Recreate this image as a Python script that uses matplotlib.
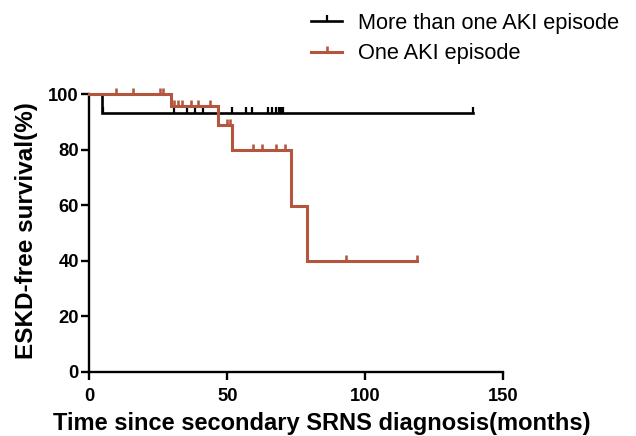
import matplotlib
matplotlib.use("Agg")
import matplotlib.pyplot as plt
from matplotlib.lines import Line2D
from matplotlib.path import Path

plt.rcParams['font.family'] = ['Liberation Sans', 'DejaVu Sans']

# --- data (months, survival %) ---
multi_times = [0, 4.5, 139.1]
multi_surv = [100, 93.3, 93.3]
multi_cens_t = [5.1, 30.8, 35.3, 38.3, 41.3, 51.6, 56.8, 58.8, 64.9, 66.1, 67.6, 68.6, 69.4, 70.1, 139.1]

one_times = [0, 29.6, 46.7, 51.8, 73.0, 79.0, 118.9]
one_surv = [100, 95.7, 89.0, 79.8, 59.8, 39.8, 39.8]
one_cens_t = [9.7, 15.7, 25.6, 26.8, 30.8, 32.2, 33.5, 36.8, 39.5, 43.7,
              49.8, 51.0, 59.4, 62.5, 67.6, 70.9, 92.9, 118.9]

labels = ["More than one AKI episode", "One AKI episode"]
xticks = [0, 50, 100, 150]
yticks = [0, 20, 40, 60, 80, 100]

BLACK = "#000000"
ORANGE = "#B4563E"


def level_at(times, surv, t):
    v = surv[0]
    for ti, si in zip(times, surv):
        if ti <= t:
            v = si
    return v


fig = plt.figure(figsize=(6.36, 4.36), dpi=100)
ax = fig.add_axes([0.1404, 0.1475, 0.6510, 0.6362])

tick_up = Path([(0, 0), (0, 1)])

for times, surv, cens, col, lw in [
    (multi_times, multi_surv, multi_cens_t, BLACK, 1.9),
    (one_times, one_surv, one_cens_t, ORANGE, 2.2),
]:
    z = 3 if col == ORANGE else 2
    ax.step(times, surv, where='post', color=col, lw=lw, clip_on=False,
            solid_joinstyle='miter', zorder=z)
    cy = [level_at(times, surv, t) for t in cens]
    ax.plot(cens, cy, linestyle='none', marker=tick_up, markersize=8.5,
            markeredgewidth=lw * 0.85, color=col, clip_on=False, zorder=z)

ax.set_xlim(0, 150)
ax.set_ylim(0, 100)
ax.set_xticks(xticks)
ax.set_yticks(yticks)
for s in ['top', 'right']:
    ax.spines[s].set_visible(False)
for s in ['left', 'bottom']:
    ax.spines[s].set_linewidth(1.7)
ax.tick_params(width=1.7, length=6, labelsize=13.2, pad=1.5)
ax.tick_params(axis='x', pad=5.5)
for lab in ax.get_xticklabels() + ax.get_yticklabels():
    lab.set_fontweight('bold')

ax.set_xlabel("Time since secondary SRNS diagnosis(months)", fontsize=17,
              fontweight='bold')
ax.xaxis.set_label_coords(0.5 + 25 / 414, -0.145)
ax.set_ylabel("ESKD-free survival(%)", fontsize=17.5, fontweight='bold')
ax.yaxis.set_label_coords(-0.125, 0.51)

handles = [
    Line2D([0], [0], color=BLACK, lw=1.9, marker=tick_up, markersize=8.5, markeredgewidth=1.6),
    Line2D([0], [0], color=ORANGE, lw=2.2, marker=tick_up, markersize=8.5, markeredgewidth=1.9),
]
fig.legend(handles, labels, loc='upper left', bbox_to_anchor=(0.475, 0.99),
           frameon=False, fontsize=15.7, handlelength=1.45, handletextpad=0.72,
           labelspacing=0.42, borderaxespad=0.0)

fig.savefig("out.png", dpi=100)
